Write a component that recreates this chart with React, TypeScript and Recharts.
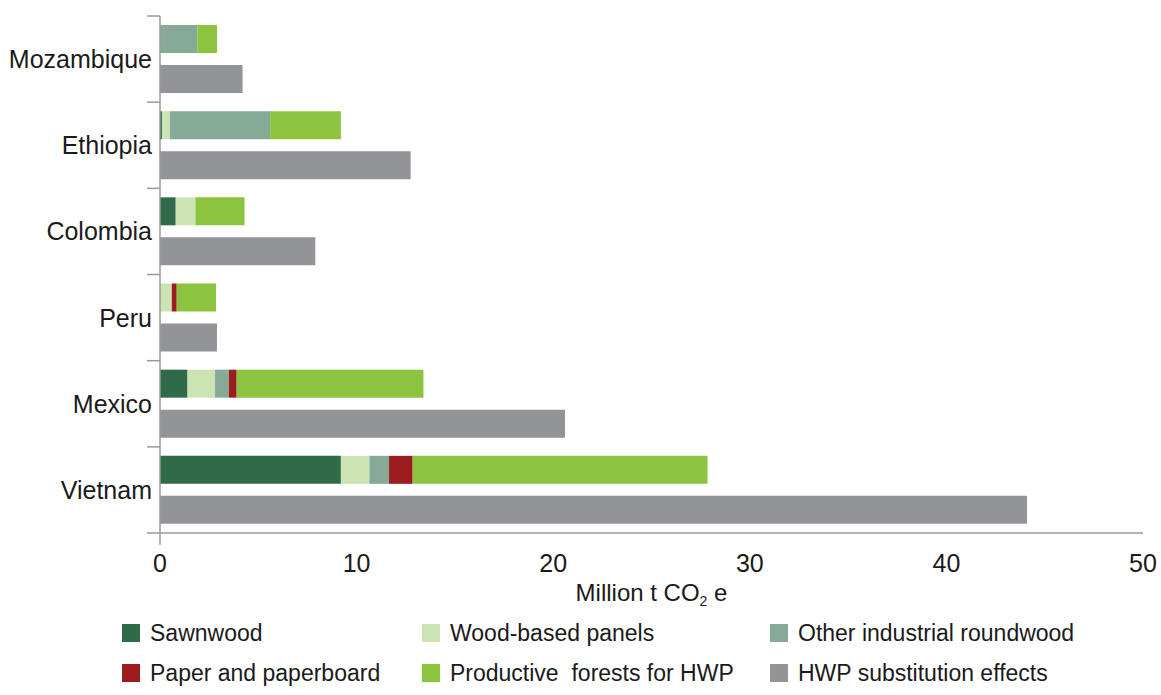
import React from 'react';
import { BarChart, Bar, XAxis, YAxis } from 'recharts';

// countries, top to bottom
const categories = ['Mozambique', 'Ethiopia', 'Colombia', 'Peru', 'Mexico', 'Vietnam'];

// Million t CO2 e
const sawnwood = [0, 0.1, 0.8, 0, 1.4, 9.2];
const woodPanels = [0, 0.4, 1.0, 0.6, 1.4, 1.45];
const otherRoundwood = [1.9, 5.1, 0, 0, 0.7, 1.0];
const paper = [0, 0, 0, 0.25, 0.4, 1.2];
const productiveForests = [1.0, 3.6, 2.5, 2.0, 9.5, 15.0];
const substitution = [4.2, 12.75, 7.9, 2.9, 20.6, 44.1];

const xTicks = [0, 10, 20, 30, 40, 50];

const series = [
    { key: 'sawnwood', name: 'Sawnwood', color: '#2F6B48', stack: 'hwp', values: sawnwood },
    { key: 'panels', name: 'Wood-based panels', color: '#CCE4B4', stack: 'hwp', values: woodPanels },
    { key: 'other', name: 'Other industrial roundwood', color: '#87AA98', stack: 'hwp', values: otherRoundwood },
    { key: 'paper', name: 'Paper and paperboard', color: '#9C1C20', stack: 'hwp', values: paper },
    { key: 'productive', name: 'Productive  forests for HWP', color: '#8CC43F', stack: 'hwp', values: productiveForests },
    { key: 'substitution', name: 'HWP substitution effects', color: '#939497', stack: 'sub', values: substitution },
];

const data = categories.map((name, i) => {
    const row: Record<string, any> = { name };
    series.forEach(s => { row[s.key] = s.values[i]; });
    return row;
});

const FONT = '"Liberation Sans", Arial, Helvetica, sans-serif';
const AXIS = '#9a9a9a';

const W = 1161;
const H = 695;
const X_HEIGHT = 80;
const M = { top: 16, right: 18, bottom: 162 - X_HEIGHT, left: 0 };
const Y_WIDTH = 160;
const band = (H - M.top - 162) / categories.length;

const CategoryTick = (props: any) => {
    const { x, y, payload, index } = props;
    return (
        <g>
            <line x1={x - 13} x2={x} y1={y - band / 2} y2={y - band / 2} stroke={AXIS} strokeWidth={1.5} />
            {index === categories.length - 1 && (
                <line x1={x - 13} x2={x} y1={y + band / 2} y2={y + band / 2} stroke={AXIS} strokeWidth={1.5} />
            )}
            <text x={x - 8} y={y + 9} textAnchor="end" fontSize={25} fill="#1a1a1a" fontFamily={FONT}>
                {payload.value}
            </text>
        </g>
    );
};

const ValueTick = (props: any) => {
    const { x, y, payload } = props;
    return (
        <g>
            {payload.value === 0 && <line x1={x} x2={x} y1={y} y2={y + 12} stroke={AXIS} strokeWidth={1.5} />}
            <text x={x} y={y + 39} textAnchor="middle" fontSize={25} fill="#1a1a1a" fontFamily={FONT}>
                {payload.value}
            </text>
        </g>
    );
};

const AxisTitle = (props: any) => {
    const vb = props.viewBox || {};
    return (
        <text x={vb.x + vb.width / 2} y={vb.y + 68} textAnchor="middle" fontSize={24} fill="#1a1a1a" fontFamily={FONT}>
            Million t CO
            <tspan fontSize={14} dy={5}>2</tspan>
            <tspan dy={-5}> e</tspan>
        </text>
    );
};

const legendCols = [122, 422, 770];
const legendRows = [633, 673];

export default function App() {
    return (
        <div style={{ position: 'absolute', left: 0, top: 0, width: W, height: H, background: '#fff', fontFamily: FONT }}>
            <BarChart
                width={W}
                height={H}
                data={data}
                layout="vertical"
                margin={M}
                barSize={28}
                barGap={12}
            >
                <XAxis
                    type="number"
                    domain={[0, 50]}
                    ticks={xTicks}
                    tick={<ValueTick />}
                    tickLine={false}
                    tickSize={0}
                    tickMargin={0}
                    axisLine={{ stroke: AXIS, strokeWidth: 1.5 }}
                    height={X_HEIGHT}
                    label={<AxisTitle />}
                />
                <YAxis
                    type="category"
                    dataKey="name"
                    width={Y_WIDTH}
                    tick={<CategoryTick />}
                    tickLine={false}
                    tickSize={0}
                    tickMargin={0}
                    axisLine={{ stroke: AXIS, strokeWidth: 1.5 }}
                    interval={0}
                />
                {series.map(s => (
                    <Bar
                        key={s.key}
                        dataKey={s.key}
                        name={s.name}
                        stackId={s.stack}
                        fill={s.color}
                        isAnimationActive={false}
                    />
                ))}
            </BarChart>

            {/* Legend */}
            {series.map((s, i) => (
                <div
                    key={s.key}
                    style={{
                        position: 'absolute',
                        left: legendCols[i % 3],
                        top: legendRows[Math.floor(i / 3)] - 14,
                        height: 28,
                        display: 'flex',
                        alignItems: 'center',
                        whiteSpace: 'pre',
                        fontSize: 23,
                        color: '#1a1a1a',
                    }}
                >
                    <span style={{ display: 'inline-block', width: 18, height: 18, background: s.color, marginRight: 10 }} />
                    {s.name}
                </div>
            ))}
        </div>
    );
}
